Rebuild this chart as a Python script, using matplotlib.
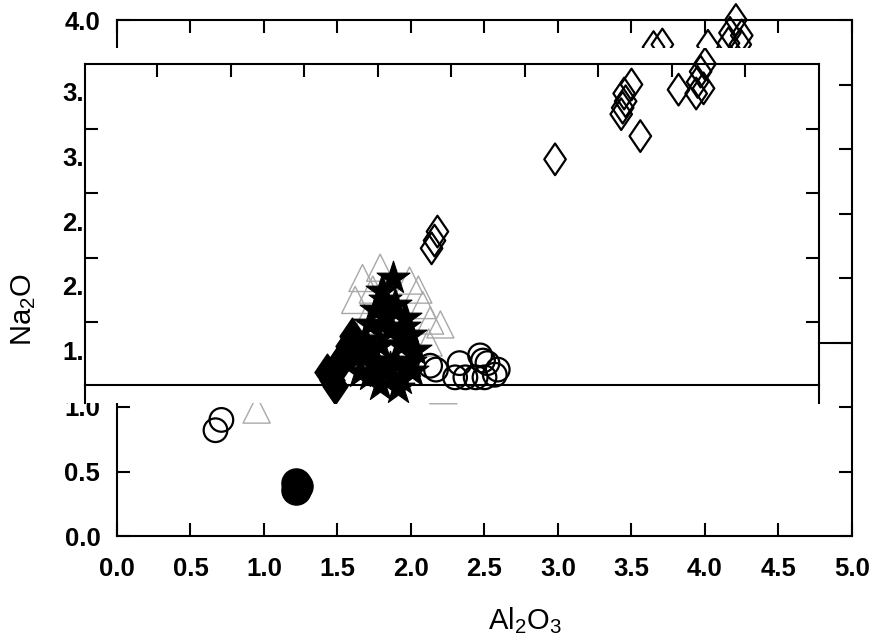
import numpy as np
import matplotlib
matplotlib.use("Agg")
import matplotlib.pyplot as plt
from matplotlib.patches import Rectangle
from matplotlib.path import Path
from matplotlib.lines import Line2D

plt.rcParams['font.family'] = ['Liberation Sans', 'DejaVu Sans']
plt.rcParams['mathtext.fontset'] = 'custom'
plt.rcParams['mathtext.rm'] = 'Liberation Sans'
plt.rcParams['mathtext.it'] = 'Liberation Sans'
plt.rcParams['mathtext.default'] = 'regular'

# ---------------- data ----------------
x_label = r'Al$_2$O$_3$'
y_label = r'Na$_2$O'
x_ticks = [0.0, 0.5, 1.0, 1.5, 2.0, 2.5, 3.0, 3.5, 4.0, 4.5, 5.0]
y_ticks = [0.0, 0.5, 1.0, 1.5, 2.0, 2.5, 3.0, 3.5, 4.0]
# outer labels that are covered by the pasted panel are left blank
y_tick_labels = ['0.0', '0.5', '1.0', '', '', '', '', '', '4.0']
inset_x_ticks = [0.5, 1.0, 1.5, 2.0, 2.5, 3.0, 3.5, 4.0, 4.5]
inset_y_ticks = [2.0, 2.5, 3.0, 3.5]
inset_label_ticks = [2.0, 2.5, 3.0, 3.5, 4.0]
inset_labels = ['1.', '2.', '2.', '3.', '3.']

open_diamond_x = [3.65, 3.71, 4.02, 4.21, 4.17, 4.25, 4.16, 4.24,
                  4.00, 3.97, 3.95, 3.99, 3.82, 3.94, 3.50, 3.45, 3.46, 3.44, 3.43, 3.56,
                  2.98, 2.18, 2.16, 2.14]
open_diamond_y = [3.79, 3.81, 3.80, 4.00, 3.90, 3.88, 3.82, 3.81,
                  3.66, 3.60, 3.52, 3.47, 3.46, 3.43, 3.50, 3.43, 3.37, 3.32, 3.27, 3.10,
                  2.92, 2.36, 2.29, 2.23]

filled_diamond_x = [1.46, 1.50, 1.53, 1.57, 1.60, 1.43, 1.48, 1.55]
filled_diamond_y = [1.21, 1.30, 1.38, 1.47, 1.55, 1.27, 1.16, 1.40]

star_x = [1.88, 1.82, 1.76, 1.89, 1.96, 1.72, 1.86, 1.99, 1.69, 1.79, 1.93,
          2.03, 1.65, 1.76, 1.89, 1.99, 1.82, 1.72, 1.93, 1.79, 1.91, 1.65,
          1.80, 1.84, 1.70, 1.95, 2.01, 1.86]
star_y = [2.00, 1.83, 1.75, 1.79, 1.69, 1.64, 1.60, 1.56, 1.52, 1.48, 1.48,
          1.44, 1.40, 1.36, 1.36, 1.35, 1.27, 1.25, 1.22, 1.17, 1.15, 1.27,
          1.90, 1.70, 1.45, 1.62, 1.28, 1.30]

triangle_x = [1.67, 1.74, 1.79, 2.05, 2.08, 2.13, 2.12, 1.62, 1.69, 1.99, 2.20, 0.95, 2.22]
triangle_y = [2.00, 1.91, 2.08, 1.91, 1.79, 1.67, 1.50, 1.83, 1.67, 1.98, 1.64, 0.98, 1.13]

open_circle_x = [0.71, 0.67, 2.13, 2.17, 2.33, 2.47, 2.52, 2.59, 2.30, 2.37, 2.44, 2.50, 2.57, 2.49]
open_circle_y = [0.90, 0.82, 1.32, 1.29, 1.34, 1.40, 1.34, 1.29, 1.23, 1.23, 1.23, 1.23, 1.25, 1.36]

filled_circle_x = [1.22, 1.22, 1.23]
filled_circle_y = [0.41, 0.36, 0.39]

# ---------------- layout helpers (pixels of the 875x643 canvas) ----------------
W, H = 875, 643
def fx(px):
    return px / W
def fy(py):
    return 1 - py / H

fig = plt.figure(figsize=(W / 100, H / 100), dpi=100)

LW = 1.5
TL = 9.5
FS = 18.5
TW = 'bold'

# outer (base) axes
ax0 = fig.add_axes([fx(117), fy(536), (852 - 117) / W, (536 - 20) / H])
ax0.set_zorder(0)
ax0.set_xlim(0, 5)
ax0.set_ylim(0, 4)
ax0.set_xticks(x_ticks)
ax0.set_xticklabels([f'{v:.1f}' for v in x_ticks], fontweight=TW)
ax0.set_yticks(y_ticks)
ax0.set_yticklabels(y_tick_labels, fontweight=TW)
ax0.tick_params(axis='both', direction='in', length=TL, width=LW, top=True, right=True,
                labelsize=FS, colors='black')
ax0.tick_params(axis='x', pad=15)
ax0.tick_params(axis='y', pad=12)
for sp in ax0.spines.values():
    sp.set_linewidth(LW)
ax0.set_xlabel(x_label, fontsize=21)
ax0.xaxis.set_label_coords((525 - 117) / 735, (536 - 605) / 516)
ax0.set_ylabel(y_label, fontsize=21, va='center')
ax0.yaxis.set_label_coords((24 - 117) / 735, (536 - 310) / 516)

# white pasted panel
panel = Rectangle((fx(40), fy(403)), fx(820) - fx(40), (403 - 48) / H,
                  transform=fig.transFigure, facecolor='white', edgecolor='none', zorder=0.5)
fig.add_artist(panel)

# inset frame axes
ax1 = fig.add_axes([fx(85), fy(385), (819 - 85) / W, (385 - 64) / H])
ax1.set_zorder(1)
ax1.patch.set_visible(False)
ax1.set_xlim(0.01, 0.01 + 734 / 147)
ax1.set_ylim(1.512, 4.0)
ax1.set_xticks(inset_x_ticks)
ax1.tick_params(axis='x', direction='in', length=TL, width=LW, top=True, bottom=False,
                labeltop=False, labelbottom=False)
label_shift = -0.217
ax1.set_yticks([v + label_shift for v in inset_label_ticks])
ax1.set_yticklabels(inset_labels, fontweight=TW)
ax1.tick_params(axis='y', which='major', length=0, pad=1.0, labelsize=FS, left=True, right=False)
ax1.set_yticks(inset_y_ticks, minor=True)
ax1.tick_params(axis='y', which='minor', direction='in', length=TL, width=LW, left=True, right=True)
for sp in ax1.spines.values():
    sp.set_linewidth(LW)

# spine extensions and long tick from the pasted picture
for seg in [([fx(85), fx(85)], [fy(385), fy(403)]),
            ([fx(819), fx(819)], [fy(385), fy(403)]),
            ([fx(819), fx(851)], [fy(342.5), fy(342.5)])]:
    fig.add_artist(Line2D(seg[0], seg[1], lw=LW, color='black', zorder=3,
                          transform=fig.transFigure))

# data layer for inset points
ax2 = fig.add_axes(ax0.get_position())
ax2.set_zorder(2)
ax2.set_xlim(0, 5)
ax2.set_ylim(0, 4)
ax2.axis('off')

clip_rect = Rectangle((fx(40), fy(403)), fx(820) - fx(40), (403 - 48) / H,
                      transform=fig.transFigure)

diamond = Path([(0, 1), (0.68, 0), (0, -1), (-0.68, 0), (0, 1)],
               [Path.MOVETO, Path.LINETO, Path.LINETO, Path.LINETO, Path.CLOSEPOLY])

def split(xs, ys):
    xs = np.asarray(xs); ys = np.asarray(ys)
    inset = (ys >= 1.145) & (ys <= 3.75)
    return (xs[~inset], ys[~inset]), (xs[inset], ys[inset])

series = [
    (triangle_x, triangle_y, dict(marker='^', s=380, facecolors='none', edgecolors='#a8a8a8', linewidths=1.0)),
    (filled_diamond_x, filled_diamond_y, dict(marker=diamond, s=700, facecolors='black', edgecolors='black', linewidths=1.0)),
    (open_diamond_x, open_diamond_y, dict(marker=diamond, s=520, facecolors='none', edgecolors='black', linewidths=1.6)),
    (open_circle_x, open_circle_y, dict(marker='o', s=290, facecolors='none', edgecolors='black', linewidths=1.6)),
    (filled_circle_x, filled_circle_y, dict(marker='o', s=440, facecolors='black', edgecolors='black', linewidths=1.0)),
    (star_x, star_y, dict(marker='*', s=620, facecolors='black', edgecolors='black', linewidths=0.8)),
]

for i, (xs, ys, kw) in enumerate(series):
    (ox, oy), (ix, iy) = split(xs, ys)
    if len(ox):
        ax0.scatter(ox, oy, clip_on=False, zorder=3 + i, **kw)
    if len(ix):
        sc = ax2.scatter(ix, iy, zorder=3 + i, **kw)
        sc.set_clip_path(clip_rect)

fig.savefig('out.png', dpi=100)
